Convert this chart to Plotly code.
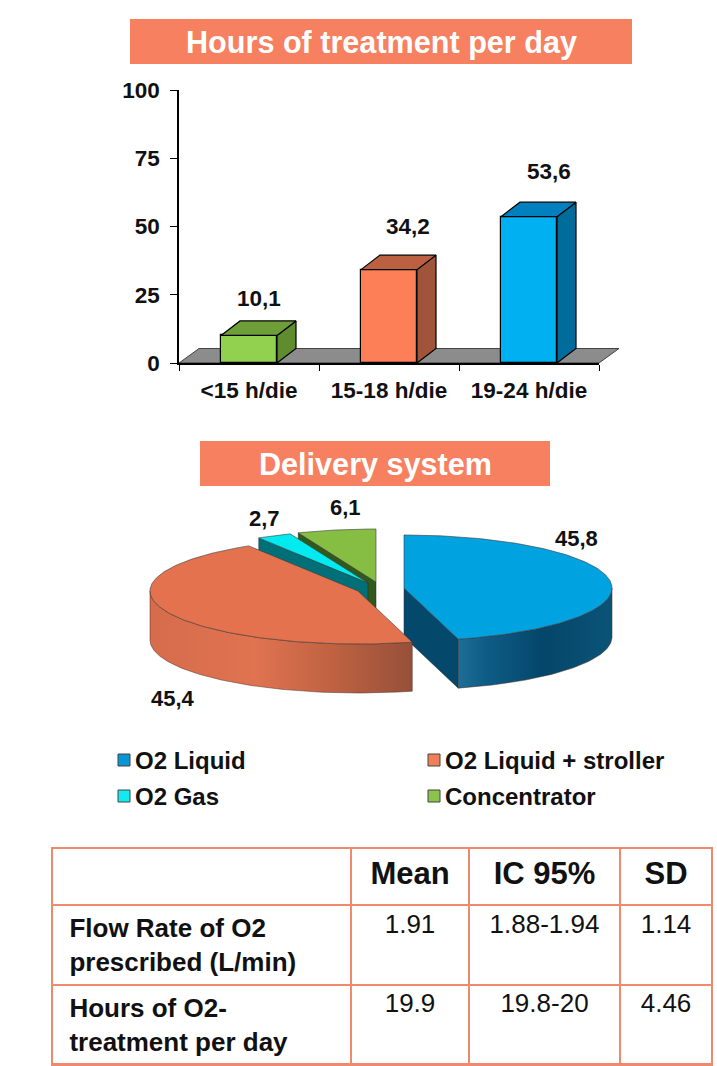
import math
import plotly.graph_objects as go

# ---- data ----
bar_categories = ["<15 h/die", "15-18 h/die", "19-24 h/die"]
bar_values = [10.1, 34.2, 53.6]
y_ticks = [0, 25, 50, 75, 100]
pie_names = ["O2 Liquid", "O2 Liquid + stroller", "O2 Gas", "Concentrator"]
pie_values = [45.8, 45.4, 2.7, 6.1]
table_header = ["", "Mean", "IC 95%", "SD"]
table_rows = ["\u00a0\u200aFlow Rate of O2<br>\u00a0\u200aprescribed (L/min)", "\u00a0\u200aHours of O2-<br>\u00a0\u200atreatment per day"]
table_mean = ["1.91", "19.9"]
table_ci = ["1.88-1.94", "19.8-20"]
table_sd = ["1.14", "4.46"]

# ---- style ----
W, H = 717, 1066
FONT = "Liberation Sans"
INK = "#111111"
TITLE_BG = "#F6805F"
BORDER = "#F08A6C"
bar_front = ["#92D050", "#FC7F58", "#00B0F0"]
bar_side = ["#5E8C2E", "#A0553A", "#006C9C"]
bar_top = ["#6E9E38", "#BC6042", "#0080BF"]
bar_label_shift = [(10, 37), (19, 43), (20, 45)]
BAR_W = 0.4
PLOT = dict(x0=179, x1=599, y0=363, y1=90)
DX, DY = 19, 14.5
dx_u = DX / ((PLOT["x1"] - PLOT["x0"]) / 3)
dy_u = DY / ((PLOT["y0"] - PLOT["y1"]) / 100)

pie_center = [(404, 588), (358, 591), (368, 583), (376, 582)]
pie_top = ["#00A3E0", "#E4724F", "#00EAF0", "#86BE44"]
pie_edge = ["#04486C", None, "#006F78", "#2F5A1C"]
pie_label_pos = [(576, 538), (173, 698), (264, 518), (345, 507)]
RX, RY, DEPTH = 208, 53, 49
legend_pos = [(118, 760), (428, 760), (118, 796), (428, 796)]
legend_fill = ["#0A96D2", "#F07F58", "#12EAF0", "#8CC34A"]

fig = go.Figure()
px = lambda x: x / W
py = lambda y: 1 - y / H


def poly(xs, ys, color, line, name, xa="x", ya="y", grad=None, width=0.8):
    t = go.Scatter(x=xs, y=ys, mode="lines", fill="toself", line=dict(color=line, width=width),
                   xaxis=xa, yaxis=ya, name=name, showlegend=False, hoverinfo="name", cliponaxis=False)
    if grad:
        t.fillgradient = dict(type="horizontal", colorscale=grad)
    else:
        t.fillcolor = color
    fig.add_trace(t)


# ---- bars ----
fig.add_trace(go.Bar(x=list(range(3)), y=bar_values, width=BAR_W, marker=dict(color=bar_front, line=dict(color="#000", width=1.2)),
                     name="Hours", showlegend=False))
for i, v in enumerate(bar_values):
    l, r = i - BAR_W / 2, i + BAR_W / 2
    poly([r, r + dx_u, r + dx_u, r, r], [0, dy_u, v + dy_u, v, 0], bar_side[i], "#000", bar_categories[i], width=1.2)
    poly([l, r, r + dx_u, l + dx_u, l], [v, v, v + dy_u, v + dy_u, v], bar_top[i], "#000", bar_categories[i], width=1.2)
    sx, sy = bar_label_shift[i]
    fig.add_annotation(x=i, y=v, xshift=sx, yshift=sy, text=f"{v:.1f}".replace(".", ","), showarrow=False,
                       font=dict(family=FONT, size=22.5, color=INK, weight="bold"))

fig.add_shape(type="path", xref="paper", yref="paper", layer="below",
              path=f"M {px(PLOT['x0'])} {py(PLOT['y0'])} L {px(PLOT['x1'])} {py(PLOT['y0'])} "
                   f"L {px(PLOT['x1']+DX+1)} {py(PLOT['y0']-DY)} L {px(PLOT['x0']+DX+1)} {py(PLOT['y0']-DY)} Z",
              fillcolor="#8C8C8C", line=dict(color="#222", width=0.8))

# ---- pie (exploded, tilted) ----
def rim(i, a0, a1, dy=0):
    n = max(2, int(abs(a1 - a0)) + 1)
    cx, cy = pie_center[i]
    out = []
    for k in range(n + 1):
        a = math.radians(a0 + (a1 - a0) * k / n)
        out.append((cx + RX * math.sin(a), cy - RY * math.cos(a) + dy))
    return out


start = []
acc = 0
for v in pie_values:
    start.append(acc * 3.6)
    acc += v
end = [s + v * 3.6 for s, v in zip(start, pie_values)]


def top(i):
    pts = [pie_center[i]] + rim(i, start[i], end[i]) + [pie_center[i]]
    poly([p[0] for p in pts], [p[1] for p in pts], pie_top[i], "#3a3a3a", pie_names[i], "x2", "y2", width=0.6)


def edge(i, a):
    c = pie_center[i]
    p = rim(i, a, a)[0]
    xs = [c[0], p[0], p[0], c[0], c[0]]
    ys = [c[1], p[1], p[1] + DEPTH, c[1] + DEPTH, c[1]]
    poly(xs, ys, pie_edge[i], "#2a2a2a", pie_names[i], "x2", "y2", width=0.5)


def wall(i, a0, a1, grad):
    upper, lower = rim(i, a0, a1), rim(i, a1, a0, DEPTH)
    pts = upper + lower + upper[:1]
    poly([p[0] for p in pts], [p[1] for p in pts], None, "#4a2a20", pie_names[i], "x2", "y2", grad=grad, width=0.5)


edge(3, start[3]); top(3)
edge(2, start[2]); top(2)
edge(0, end[0])
wall(0, 90, end[0], [[0, "#1E6E98"], [0.18, "#0E5C86"], [0.55, "#05466A"], [1, "#0A5478"]])
top(0)
wall(1, start[1], 270, [[0, "#D66C4C"], [0.4, "#E07350"], [0.7, "#BE6242"], [1, "#96503A"]])
top(1)

for i, v in enumerate(pie_values):
    fig.add_annotation(x=pie_label_pos[i][0], y=pie_label_pos[i][1], xref="x2", yref="y2", showarrow=False,
                       text=f"{v:.1f}".replace(".", ","), font=dict(family=FONT, size=22, color=INK, weight="bold"))

# ---- legend ----
for i, n in enumerate(pie_names):
    x, y = legend_pos[i]
    fig.add_shape(type="rect", xref="x2", yref="y2", x0=x, x1=x + 12, y0=y - 6, y1=y + 6,
                  fillcolor=legend_fill[i], line=dict(color="#444", width=1))
    fig.add_annotation(x=x + 15, y=y, xref="x2", yref="y2", xanchor="left", showarrow=False, text=n,
                       font=dict(family=FONT, size=24, color=INK, weight="bold"))

# ---- titles ----
for (x0, x1, y0, y1, txt) in [(130, 632, 19, 64, "Hours of treatment per day"), (200, 550, 441, 486, "Delivery system")]:
    fig.add_shape(type="rect", xref="x2", yref="y2", x0=x0, x1=x1, y0=y0, y1=y1, fillcolor=TITLE_BG, line=dict(width=0))
    fig.add_annotation(x=(x0 + x1) / 2, y=(y0 + y1) / 2 + 0.5, xref="x2", yref="y2", showarrow=False, text=txt,
                       font=dict(family=FONT, size=30.6, color="white", weight="bold"))

# ---- table ----
fig.add_trace(go.Table(
    domain=dict(x=[px(52), px(712)], y=[0, py(848)]),
    columnwidth=[299, 118, 151, 92],
    header=dict(values=[f"<b>{h}</b>" for h in table_header], height=57, align="center",
                fill_color="white", line=dict(color=BORDER, width=2.5),
                font=dict(family=FONT, size=31, color=INK)),
    cells=dict(values=[[f"<b>{r}</b>" for r in table_rows], table_mean, table_ci, table_sd], height=79,
               align=["left", "center", "center", "center"], fill_color="white",
               line=dict(color=BORDER, width=2.5), font=dict(family=FONT, size=26, color=INK)),
))

fig.update_layout(
    template="none",
    width=W, height=H, margin=dict(l=0, r=0, t=0, b=0, autoexpand=False), paper_bgcolor="white", plot_bgcolor="rgba(0,0,0,0)",
    bargap=0, showlegend=False,
    xaxis=dict(domain=[px(PLOT["x0"]), px(PLOT["x1"])], range=[-0.5, 2.5], tickvals=[0, 1, 2], ticktext=bar_categories,
               ticks="", showgrid=False, zeroline=False, showline=True, linecolor="#000", linewidth=1.5, automargin=False,
               minor=dict(tickvals=[-0.5, 0.5, 1.5, 2.5], ticks="outside", ticklen=6, tickcolor="#000", tickwidth=1.2, showgrid=False),
               ticklabelstandoff=6, tickfont=dict(family=FONT, size=22.5, color=INK, weight="bold")),
    yaxis=dict(domain=[py(PLOT["y0"]), py(PLOT["y1"])], range=[0, 100], tickvals=y_ticks, ticks="outside", ticklen=7,
               tickcolor="#000", tickwidth=1.2, showgrid=False, zeroline=False, showline=True, linecolor="#000", linewidth=1.5, automargin=False,
               ticklabelstandoff=6, tickfont=dict(family=FONT, size=22.5, color=INK, weight="bold")),
    xaxis2=dict(domain=[0, 1], range=[0, W], visible=False, anchor="y2", automargin=False),
    yaxis2=dict(domain=[0, 1], range=[H, 0], visible=False, anchor="x2", automargin=False),
)
fig.write_html("out.html", config=dict(displayModeBar=False), post_script="document.body.style.margin='0';")
